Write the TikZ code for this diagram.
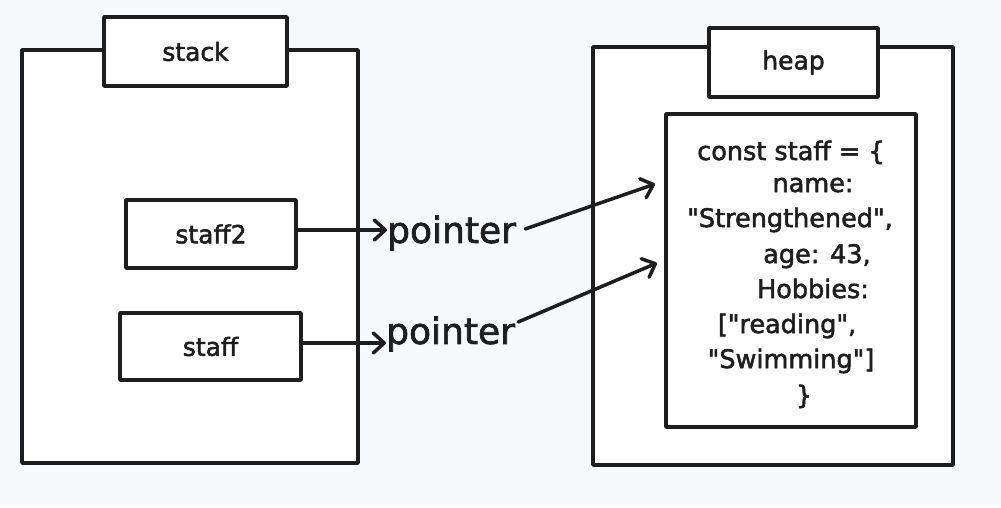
\documentclass[tikz,border=0pt]{standalone}
\usepackage{fontspec}
\setmainfont{DejaVu Sans}[FakeBold=2]
\usetikzlibrary{positioning,arrows.meta}
\definecolor{ink}{HTML}{1E1E1E}
\definecolor{paper}{HTML}{F8F9FB}
\newcommand{\dq}{\textquotedbl}

\begin{document}
\begin{tikzpicture}[x=1pt,y=-1pt,
    box/.style={draw=ink,fill=white,line width=3.5pt,line join=round,inner sep=0pt,
      font=\fontsize{25}{28}\selectfont,text=ink},
    link/.style={draw=ink,line width=3.5pt,line cap=round,line join=round,
      -{Straight Barb[length=11pt,width=20pt,line width=3.5pt,round]}},
    ptr/.style={inner sep=0pt,font=\fontsize{36}{40}\selectfont,text=ink},
    code/.style={anchor=base,inner sep=0pt,font=\fontsize{25.5}{28}\selectfont,text=ink}]
  \fill[paper] (0,0) rectangle (1001,507);
  \useasboundingbox (0,0) rectangle (1001,507);

  % stack side
  \node[box,minimum width=336pt,minimum height=413pt] (stack) at (190,256.5) {};
  \node[box,minimum width=183pt,minimum height=69pt] (stacklbl) at (195.5,51.5) {stack};
  \node[box,minimum width=170pt,minimum height=68pt] (staffb) at (211,234) {staf{}f2};
  \node[box,minimum width=181pt,minimum height=67pt] (staffa) at (210.5,346.5) {staf{}f};

  % heap side
  \node[box,minimum width=360pt,minimum height=418pt] (heap) at (773,256) {};
  \node[box,minimum width=169pt,minimum height=69pt] (heaplbl) at (793.5,62.5) {heap};
  \node[box,minimum width=250pt,minimum height=313pt] (obj) at (791,270.5) {};
  \foreach \x/\y/\t [count=\i] in {791/160/{const staf{}f = \{},813/192/{name:},
      790/227/{\dq Strengthened\dq,},817/263/{age: 43,},813/298/{Hobbies:},
      787/333/{[\dq reading\dq,},791/368/{\dq Swimming\dq]},804/404/{\}}}
    \node[code] (line\i) at (\x,\y) {\t};

  % pointers
  \node[ptr,anchor=west] (ptrb) at (387,233) {pointer};
  \node[ptr,anchor=west] (ptra) at (386,334) {pointer};
  \coordinate (objin1) at (655,184);
  \coordinate (objin2) at (657,263);

  \draw[link] (staffb.east |- 0,230) -- (ptrb.west |- 0,230);
  \draw[link] (staffa.east |- 0,343) -- (ptra.west |- 0,343);
  \draw[link] ([xshift=9pt,yshift=4pt]ptrb.east) -- (objin1);
  \draw[link] ([xshift=3pt,yshift=12pt]ptra.east) -- (objin2);
\end{tikzpicture}
\end{document}
